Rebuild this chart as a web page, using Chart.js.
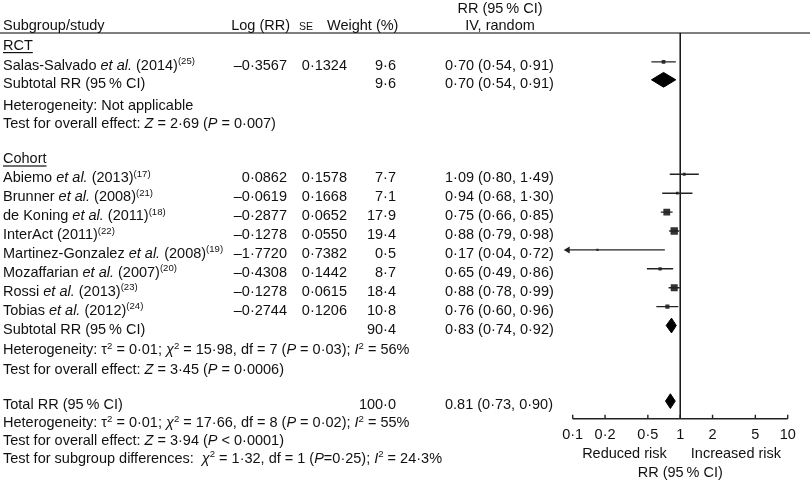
<!DOCTYPE html>
<html>
<head>
<meta charset="utf-8">
<script src="https://cdn.jsdelivr.net/npm/chart.js@4.4.1/dist/chart.umd.min.js"></script>
<style>
  html, body { margin: 0; padding: 0; background: #fff; }
  canvas { display: block; }
</style>
</head>
<body>
<canvas id="chart" width="810" height="480"></canvas>
<script>
// label markup: _italic_  ^superscript^
const studyLabels = [
  'Salas-Salvado _et al._ (2014)^(25)^',
  'Abiemo _et al._ (2013)^(17)^',
  'Brunner _et al._ (2008)^(21)^',
  'de Koning _et al._ (2011)^(18)^',
  'InterAct (2011)^(22)^',
  'Martinez-Gonzalez _et al._ (2008)^(19)^',
  'Mozaffarian _et al._ (2007)^(20)^',
  'Rossi _et al._ (2013)^(23)^',
  'Tobias _et al._ (2012)^(24)^'
]
const studyRows = [1.05, 7, 8, 9, 10, 11, 12, 13, 14]
const logRR = [-0.3567, 0.0862, -0.0619, -0.2877, -0.1278, -1.7720, -0.4308, -0.1278, -0.2744]
const se = [0.1324, 0.1578, 0.1668, 0.0652, 0.0550, 0.7382, 0.1442, 0.0615, 0.1206]
const weight = [9.6, 7.7, 7.1, 17.9, 19.4, 0.5, 8.7, 18.4, 10.8]
const rr = [0.70, 1.09, 0.94, 0.75, 0.88, 0.17, 0.65, 0.88, 0.76]
const lower = [0.54, 0.80, 0.68, 0.66, 0.79, 0.04, 0.49, 0.78, 0.60]
const upper = [0.91, 1.49, 1.30, 0.85, 0.98, 0.72, 0.86, 0.99, 0.96]

const summaryLabels = ['Subtotal RR (95\u2009% CI)', 'Subtotal RR (95\u2009% CI)', 'Total RR (95\u2009% CI)']
const summaryRows = [2, 15, 19]
const summaryWeight = [9.6, 90.4, 100.0]
const summaryRR = [0.70, 0.83, 0.81]
const summaryLower = [0.54, 0.74, 0.73]
const summaryUpper = [0.91, 0.92, 0.90]

const groupHeadings = ['RCT', 'Cohort']
const groupRows = [0, 6]

const noteLines = [
  'Heterogeneity: Not applicable',
  'Test for overall effect: _Z_ = 2·69 (_P_ = 0·007)',
  'Heterogeneity: τ^2^ = 0·01; _χ_^2^ = 15·98, df = 7 (_P_ = 0·03); _I_^2^ = 56%',
  'Test for overall effect: _Z_ = 3·45 (_P_ = 0·0006)',
  'Heterogeneity: τ^2^ = 0·01; _χ_^2^ = 17·66, df = 8 (_P_ = 0·02); _I_^2^ = 55%',
  'Test for overall effect: _Z_ = 3·94 (_P_ < 0·0001)',
  'Test for subgroup differences:  _χ_^2^ = 1·32, df = 1 (_P_=0·25); _I_^2^ = 24·3%'
]
const noteRows = [3.2, 4.15, 16.1, 17.15, 19.95, 20.9, 21.85]

const xTicks = [0.1, 0.2, 0.5, 1, 2, 5, 10]
const xTickLabels = ['0·1', '0·2', '0·5', '1', '2', '5', '10']

const FAMILY = '"Liberation Sans", Arial, Helvetica, sans-serif'
const FS = 14.5
const INK = '#111'

function num(v, d) {
  const s = Math.abs(v).toFixed(d).replace('.', '·')
  return v < 0 ? '\u2013' + s : s
}

function drawRich(ctx, str, x, y, align, size) {
  size = size || FS
  const parts = []
  str.split(/(_[^_]+_|\^[^^]+\^)/).forEach(s => {
    if (!s) return
    if (s[0] === '_') parts.push({ t: s.slice(1, -1), it: true })
    else if (s[0] === '^') parts.push({ t: s.slice(1, -1), sup: true })
    else parts.push({ t: s })
  })
  const fontOf = p => (p.it ? 'italic ' : '') + (p.sup ? size * 0.66 : size) + 'px ' + FAMILY
  let w = 0
  parts.forEach(p => { ctx.font = fontOf(p); p.w = ctx.measureText(p.t).width; w += p.w })
  let cx = align === 'right' ? x - w : align === 'center' ? x - w / 2 : x
  ctx.textAlign = 'left'
  ctx.textBaseline = 'alphabetic'
  parts.forEach(p => {
    ctx.font = fontOf(p)
    ctx.fillText(p.t, cx, p.sup ? y - size * 0.38 : y)
    cx += p.w
  })
  return w
}

const diamondHalf = 0.39

const ciSets = studyRows.map((row, i) => ({
  type: 'line',
  data: [{ x: lower[i], y: row }, { x: upper[i], y: row }],
  borderColor: '#222',
  borderWidth: 1.4,
  pointRadius: 0,
  clip: { left: 5, right: 0, top: 0, bottom: 0 }
}))

const boxSet = {
  type: 'scatter',
  data: studyRows.map((row, i) => ({ x: rr[i], y: row })),
  pointStyle: 'rect',
  pointRadius: weight.map(w => Math.max(2.2, w * 0.38) / Math.SQRT2),
  backgroundColor: '#333',
  borderWidth: 0
}

const diamondSets = summaryRows.map((row, i) => ({
  type: 'line',
  data: [
    { x: summaryLower[i], y: row },
    { x: summaryRR[i], y: row - diamondHalf },
    { x: summaryUpper[i], y: row },
    { x: summaryRR[i], y: row + diamondHalf },
    { x: summaryLower[i], y: row }
  ],
  borderColor: '#000',
  backgroundColor: '#000',
  borderWidth: 1,
  pointRadius: 0,
  tension: 0,
  fill: 'shape'
}))

const forestPlugin = {
  id: 'forest',
  beforeDatasetsDraw(chart) {
    const { ctx, chartArea, scales: { x } } = chart
    ctx.save()
    // header rule
    ctx.strokeStyle = '#555'
    ctx.lineWidth = 1.4
    ctx.beginPath()
    ctx.moveTo(0, chartArea.top)
    ctx.lineTo(810, chartArea.top)
    ctx.stroke()
    // line of no effect
    ctx.strokeStyle = '#000'
    ctx.lineWidth = 1.4
    const x1 = x.getPixelForValue(1)
    ctx.beginPath()
    ctx.moveTo(x1, chartArea.top)
    ctx.lineTo(x1, chartArea.bottom)
    ctx.stroke()
    ctx.restore()
  },
  afterDraw(chart) {
    const { ctx, chartArea, scales: { x, y } } = chart
    const base = r => y.getPixelForValue(r) + 8
    ctx.save()
    ctx.fillStyle = INK

    // arrows for CIs running off the left edge
    studyRows.forEach((row, i) => {
      if (lower[i] < x.min) {
        const py = y.getPixelForValue(row)
        const tip = chartArea.left - 9
        ctx.beginPath()
        ctx.moveTo(tip, py)
        ctx.lineTo(tip + 6, py - 3.5)
        ctx.lineTo(tip + 6, py + 3.5)
        ctx.closePath()
        ctx.fillStyle = '#222'
        ctx.fill()
        ctx.fillStyle = INK
      }
    })

    // column headers
    drawRich(ctx, 'Subgroup/study', 3, base(-1.06), 'left')
    drawRich(ctx, 'Log (RR)', 290, base(-1.06), 'right')
    drawRich(ctx, 'SE', 299, base(-1.06), 'left', 10.5)
    drawRich(ctx, 'Weight (%)', 327, base(-1.06), 'left')
    drawRich(ctx, 'RR (95\u2009% CI)', 500, base(-1.96), 'center')
    drawRich(ctx, 'IV, random', 500, base(-1.06), 'center')

    // group headings (underlined)
    groupHeadings.forEach((g, i) => {
      const by = base(groupRows[i])
      const w = drawRich(ctx, g, 3, by, 'left')
      ctx.fillRect(3, by + 2, w, 1.2)
    })

    // study rows
    studyRows.forEach((row, i) => {
      const by = base(row)
      drawRich(ctx, studyLabels[i], 3, by, 'left')
      drawRich(ctx, num(logRR[i], 4), 287, by, 'right')
      drawRich(ctx, num(se[i], 4), 347, by, 'right')
      drawRich(ctx, num(weight[i], 1), 396, by, 'right')
      drawRich(ctx, num(rr[i], 2) + ' (' + num(lower[i], 2) + ', ' + num(upper[i], 2) + ')', 445, by, 'left')
    })

    // summary rows
    summaryRows.forEach((row, i) => {
      const by = base(row)
      const est = i === summaryRows.length - 1 ? summaryRR[i].toFixed(2) : num(summaryRR[i], 2)
      drawRich(ctx, summaryLabels[i], 3, by, 'left')
      drawRich(ctx, num(summaryWeight[i], 1), 396, by, 'right')
      drawRich(ctx, est + ' (' + num(summaryLower[i], 2) + ', ' + num(summaryUpper[i], 2) + ')', 445, by, 'left')
    })

    // heterogeneity / test lines
    noteLines.forEach((t, i) => drawRich(ctx, t, 3, base(noteRows[i]), 'left'))

    // x axis
    const ay = chartArea.bottom
    ctx.strokeStyle = '#222'
    ctx.lineWidth = 1.4
    ctx.beginPath()
    ctx.moveTo(chartArea.left, ay)
    ctx.lineTo(chartArea.right, ay)
    xTicks.forEach(v => {
      const px = x.getPixelForValue(v)
      ctx.moveTo(px, ay)
      ctx.lineTo(px, ay - 4)
    })
    ctx.stroke()
    xTicks.forEach((v, i) => drawRich(ctx, xTickLabels[i], x.getPixelForValue(v), ay + 20, 'center'))
    const x1 = x.getPixelForValue(1)
    drawRich(ctx, 'Reduced risk', (chartArea.left + x1) / 2 - 2, ay + 39, 'center')
    drawRich(ctx, 'Increased risk', (chartArea.right + x1) / 2 + 2, ay + 39, 'center')
    drawRich(ctx, 'RR (95\u2009% CI)', x1, ay + 58, 'center')
    ctx.restore()
  }
}

new Chart(document.getElementById('chart'), {
  type: 'scatter',
  data: { datasets: [...ciSets, boxSet, ...diamondSets] },
  options: {
    responsive: false,
    animation: false,
    layout: { padding: { left: 572.7, right: 22.3, top: 33, bottom: 61.3 } },
    scales: {
      x: { type: 'logarithmic', min: 0.1, max: 10, display: false },
      y: { type: 'linear', min: -0.476, max: 19.93, reverse: true, display: false }
    },
    plugins: { legend: { display: false }, tooltip: { enabled: false } }
  },
  plugins: [forestPlugin]
})
</script>
</body>
</html>
